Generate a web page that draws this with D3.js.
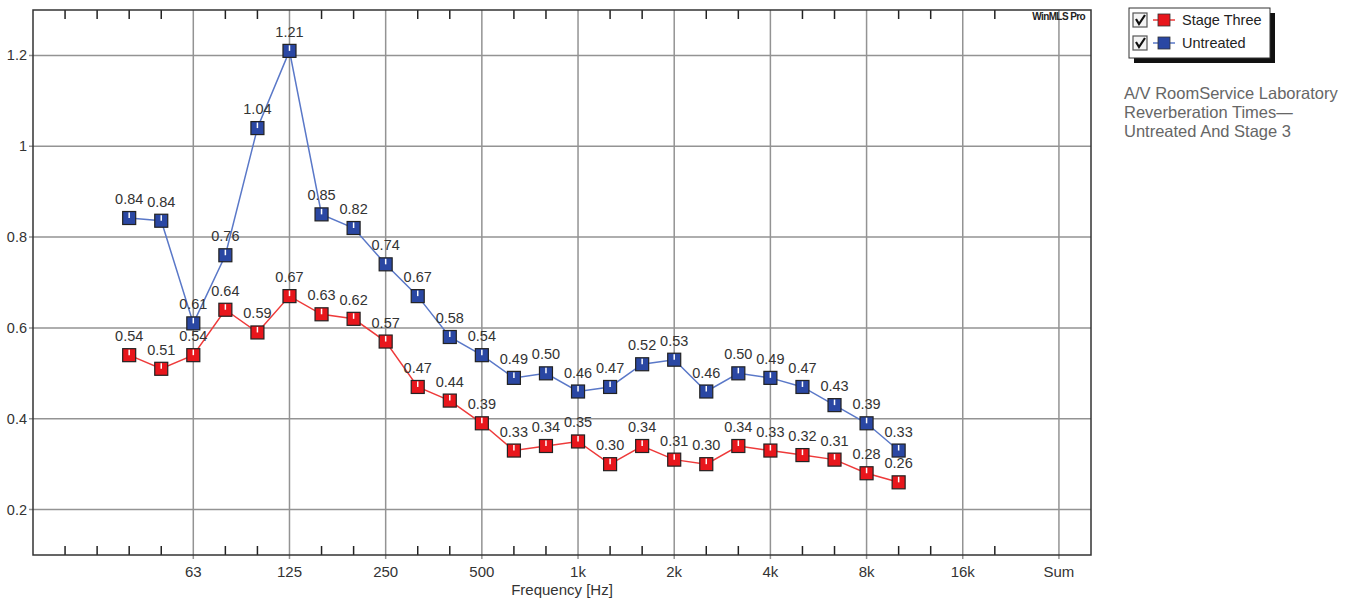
<!DOCTYPE html>
<html>
<head>
<meta charset="utf-8">
<script src="https://cdn.jsdelivr.net/npm/d3@7"></script>
<style>
  body { margin: 0; background: #fff; }
  svg text { font-family: "Liberation Sans", Arial, sans-serif; }
</style>
</head>
<body>
<div id="chart"></div>
<script>
// 1/3-octave bands that carry data
const bands = ["40","50","63","80","100","125","160","200","250","315","400","500","630","800",
  "1k","1.25k","1.6k","2k","2.5k","3.15k","4k","5k","6.3k","8k","10k"];
const stageThree = [0.54,0.51,0.54,0.64,0.59,0.67,0.63,0.62,0.57,0.47,0.44,0.39,0.33,0.34,
  0.35,0.30,0.34,0.31,0.30,0.34,0.33,0.32,0.31,0.28,0.26];
const untreated = [0.842,0.836,0.61,0.76,1.04,1.21,0.85,0.82,0.74,0.67,0.58,0.54,0.49,0.50,
  0.46,0.47,0.52,0.53,0.46,0.50,0.49,0.47,0.43,0.39,0.33];
// every band slot on the axis, 20 Hz .. Sum
const allBands = ["20","25","31.5","40","50","63","80","100","125","160","200","250","315","400",
  "500","630","800","1k","1.25k","1.6k","2k","2.5k","3.15k","4k","5k","6.3k","8k","10k","12.5k",
  "16k","20k","25k","Sum"];
const octaveLabels = ["63","125","250","500","1k","2k","4k","8k","16k","Sum"];
const yTicks = [0.2,0.4,0.6,0.8,1,1.2];
const seriesNames = ["Stage Three","Untreated"];
const caption = ["A/V RoomService Laboratory","Reverberation Times\u2014","Untreated And Stage 3"];

const width = 1356, height = 600;
const margin = {left: 33, top: 10, right: 265, bottom: 45};
const colors = {
  "Stage Three": {line: "#ee3a3a", fill: "#e8161c"},
  "Untreated": {line: "#5a78c8", fill: "#2a47a3"}
};

const svg = d3.select("#chart").append("svg")
  .attr("width", width).attr("height", height);

const x = d3.scaleLinear()
  .domain([0, allBands.length])
  .range([margin.left, width - margin.right]);
const xb = b => x(allBands.indexOf(b));
const y = d3.scaleLinear()
  .domain([0.1, 1.3])
  .range([height - margin.bottom, margin.top]);

const x0 = x.range()[0], x1 = x.range()[1];
const y0 = y.range()[0], y1 = y.range()[1];

// grid
svg.append("g").selectAll("line.h").data(yTicks).enter().append("line")
  .attr("x1", x0 - 4).attr("x2", x1)
  .attr("y1", d => y(d)).attr("y2", d => y(d))
  .attr("stroke", "#939393").attr("stroke-width", 1.5);
svg.append("g").selectAll("line.v").data(octaveLabels).enter().append("line")
  .attr("x1", d => xb(d)).attr("x2", d => xb(d))
  .attr("y1", y1).attr("y2", y0 + 4)
  .attr("stroke", "#939393").attr("stroke-width", 1.5);

// minor ticks top and bottom
const minor = allBands.slice(1).filter(b => !octaveLabels.includes(b) && b !== "25k");
svg.append("g").selectAll("line").data(minor).enter().append("line")
  .attr("x1", d => xb(d)).attr("x2", d => xb(d))
  .attr("y1", y1).attr("y2", y1 + 9)
  .attr("stroke", "#222").attr("stroke-width", 1.5);
svg.append("g").selectAll("line").data(minor).enter().append("line")
  .attr("x1", d => xb(d)).attr("x2", d => xb(d))
  .attr("y1", y0).attr("y2", y0 - 9)
  .attr("stroke", "#222").attr("stroke-width", 1.5);

// frame
svg.append("rect")
  .attr("x", x0).attr("y", y1).attr("width", x1 - x0).attr("height", y0 - y1)
  .attr("fill", "none").attr("stroke", "#333").attr("stroke-width", 1.5);

// axis labels
svg.append("g").selectAll("text").data(yTicks).enter().append("text")
  .attr("x", 27).attr("y", d => y(d) + 5)
  .attr("text-anchor", "end").attr("font-size", 14.5).attr("fill", "#333")
  .text(d => d);
svg.append("g").selectAll("text").data(octaveLabels).enter().append("text")
  .attr("x", d => xb(d)).attr("y", y0 + 22)
  .attr("text-anchor", "middle").attr("font-size", 15).attr("fill", "#333")
  .text(d => d);
svg.append("text")
  .attr("x", (x0 + x1) / 2).attr("y", y0 + 40)
  .attr("text-anchor", "middle").attr("font-size", 15).attr("fill", "#333")
  .text("Frequency [Hz]");
svg.append("text")
  .attr("x", x1 - 6).attr("y", y1 + 10)
  .attr("text-anchor", "end").attr("font-size", 10).attr("font-weight", "bold")
  .attr("letter-spacing", -0.6).attr("fill", "#222")
  .text("WinMLS Pro");

// series
const series = [
  {name: "Stage Three", values: stageThree},
  {name: "Untreated", values: untreated}
];
const line = d3.line().x((d, i) => xb(bands[i])).y(d => y(d));

function marker(g, cx, cy, fill) {
  g.append("rect")
    .attr("x", cx - 6.5).attr("y", cy - 6.5).attr("width", 13).attr("height", 13)
    .attr("fill", fill).attr("stroke", "#222").attr("stroke-width", 1.2);
  g.append("line")
    .attr("x1", cx).attr("x2", cx).attr("y1", cy - 5.5).attr("y2", cy)
    .attr("stroke", "#fff").attr("stroke-width", 1.5);
}

series.forEach(s => {
  svg.append("path").datum(s.values)
    .attr("d", line).attr("fill", "none")
    .attr("stroke", colors[s.name].line).attr("stroke-width", 1.5);
});
series.forEach(s => {
  const g = svg.append("g");
  s.values.forEach((v, i) => marker(g, xb(bands[i]), y(v), colors[s.name].fill));
});
series.forEach(s => {
  svg.append("g").selectAll("text").data(s.values).enter().append("text")
    .attr("x", (d, i) => xb(bands[i])).attr("y", d => y(d) - 14)
    .attr("text-anchor", "middle").attr("font-size", 14.5).attr("fill", "#333")
    .text(d => d3.format(".2f")(d));
});

// legend
const lg = svg.append("g").attr("transform", "translate(1129,8)");
lg.append("rect").attr("x", 5).attr("y", 5).attr("width", 141).attr("height", 50).attr("fill", "#111");
lg.append("rect").attr("x", 0).attr("y", 0).attr("width", 141).attr("height", 50)
  .attr("fill", "#fff").attr("stroke", "#333").attr("stroke-width", 1);
seriesNames.forEach((name, i) => {
  const cy = 12 + i * 23;
  lg.append("rect").attr("x", 4).attr("y", cy - 7).attr("width", 14).attr("height", 14)
    .attr("fill", "#f4f4f4").attr("stroke", "#555").attr("stroke-width", 1.2);
  lg.append("path")
    .attr("d", `M7,${cy - 1} L10,${cy + 4} L16,${cy - 5}`)
    .attr("fill", "none").attr("stroke", "#111").attr("stroke-width", 2.2);
  lg.append("line").attr("x1", 24).attr("x2", 46).attr("y1", cy).attr("y2", cy)
    .attr("stroke", colors[name].line).attr("stroke-width", 1.5);
  lg.append("rect").attr("x", 29).attr("y", cy - 6).attr("width", 12).attr("height", 12)
    .attr("fill", colors[name].fill).attr("stroke", "#333").attr("stroke-width", 0.8);
  lg.append("text").attr("x", 53).attr("y", cy + 5)
    .attr("font-size", 14.5).attr("fill", "#222").text(name);
});

// caption
svg.append("g").selectAll("text").data(caption).enter().append("text")
  .attr("x", 1124).attr("y", (d, i) => 99 + i * 19)
  .attr("font-size", 16.5).attr("fill", "#666")
  .text(d => d);
</script>
</body>
</html>
